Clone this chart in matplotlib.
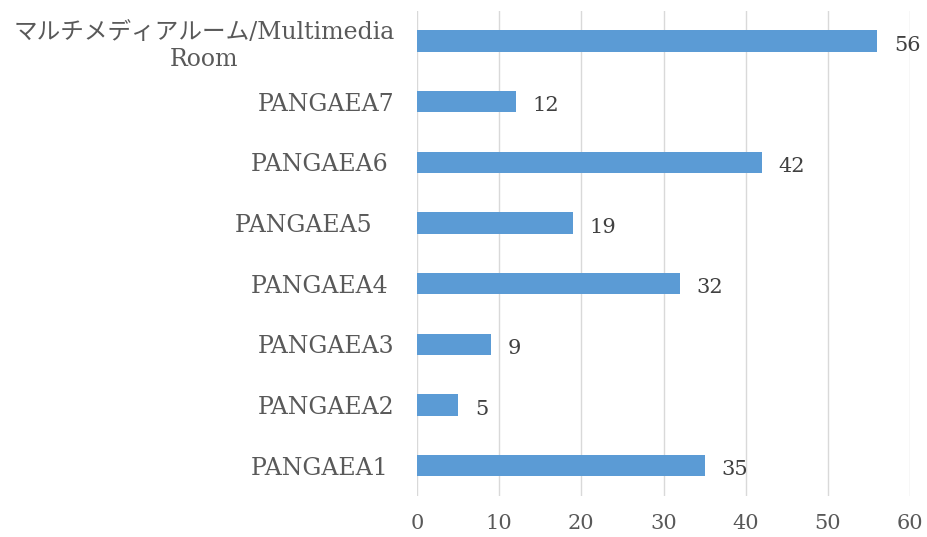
import matplotlib
matplotlib.use("Agg")
import matplotlib.pyplot as plt

categories = ["PANGAEA1 ", "PANGAEA2", "PANGAEA3", "PANGAEA4 ", "PANGAEA5\u3000",
              "PANGAEA6 ", "PANGAEA7", "マルチメディアルーム/Multimedia\nRoom"]
values = [35, 5, 9, 32, 19, 42, 12, 56]
xticks = [0, 10, 20, 30, 40, 50, 60]

fam = ["DejaVu Serif", "Noto Sans CJK JP"]
plt.rcParams["font.family"] = fam
txt = "#595959"
bar_color = "#5B9BD5"

fig = plt.figure(figsize=(9.28, 5.37), dpi=100)
ax = fig.add_axes([0.4494, 0.0764, 0.5312, 0.9036])

y = list(range(len(categories)))
ax.barh(y, values, height=0.35, color=bar_color, zorder=3)
for yi, v in zip(y, values):
    ax.annotate(str(v), (v, yi), xytext=(12, -3), textcoords="offset points",
                ha="left", va="center", fontsize=15, color="#404040", family=fam)

ax.set_xlim(0, 60)
ax.set_ylim(-0.5, len(categories) - 0.5)
ax.set_xticks(xticks)
ax.set_xticklabels([str(t) for t in xticks], fontsize=15, color=txt)
ax.set_yticks(y)
ax.set_yticklabels(categories, fontsize=17, color=txt, multialignment="center",
                   linespacing=1.25)
ax.tick_params(axis="both", length=0)
ax.tick_params(axis="y", pad=16)
ax.tick_params(axis="x", pad=13)
for s in ax.spines.values():
    s.set_visible(False)
ax.xaxis.grid(True, color="#d9d9d9", linewidth=1, zorder=0)
ax.set_axisbelow(True)

fig.savefig("out.png", dpi=100, facecolor="white")
